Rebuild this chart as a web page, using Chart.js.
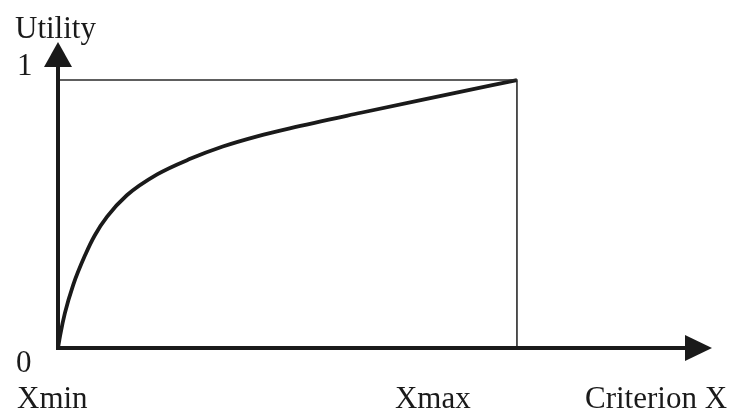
<!DOCTYPE html>
<html>
<head>
<meta charset="utf-8">
<script src="https://cdn.jsdelivr.net/npm/chart.js@4"></script>
<style>
	html, body { margin: 0; padding: 0; background: #fff; }
	#wrap { width: 734px; height: 410px; position: relative; }
</style>
</head>
<body>
<div id="wrap"><canvas id="utilityChart"></canvas></div>
<script>
// utility curve (x: 0 = Xmin, 1 = Xmax)
var curveX = [0, 0.005, 0.015, 0.033, 0.06, 0.08, 0.107, 0.15, 0.216, 0.288, 0.359, 0.434, 0.505, 0.66, 0.832, 1];
var curveY = [0, 0.05, 0.13, 0.235, 0.35, 0.42, 0.49, 0.57, 0.648, 0.706, 0.752, 0.79, 0.82, 0.878, 0.94, 1];

// box lines: utility 1 level and Xmax
var boxX = [0, 1, 1];
var boxY = [1, 1, 0];

var xTicks = [0, 1];
var xTickLabels = ['Xmin', 'Xmax'];
var yTicks = [0, 1];
var yTickLabels = ['0', '1'];
var xTitle = 'Criterion X';
var yTitle = 'Utility';

function toPoints(xs, ys) {
	return xs.map(function (x, i) { return {x: x, y: ys[i]}; });
}

var ink = '#1a1a1a';
var font = '31px "Liberation Serif", "DejaVu Serif", serif';

var axesPlugin = {
	id: 'axesPlugin',
	afterDatasetsDraw: function (chart) {
		var ctx = chart.ctx;
		var xs = chart.scales.x, ys = chart.scales.y;
		var x0 = xs.getPixelForValue(0), y0 = ys.getPixelForValue(0);
		var xEnd = xs.right, yEnd = ys.top;

		ctx.save();
		ctx.strokeStyle = ink;
		ctx.fillStyle = ink;
		ctx.lineWidth = 4;
		ctx.lineCap = 'butt';

		// y axis + arrow
		ctx.beginPath();
		ctx.moveTo(x0, y0 + 2);
		ctx.lineTo(x0, yEnd + 20);
		ctx.stroke();
		ctx.beginPath();
		ctx.moveTo(x0, yEnd);
		ctx.lineTo(x0 - 14, yEnd + 25);
		ctx.lineTo(x0 + 14, yEnd + 25);
		ctx.closePath();
		ctx.fill();

		// x axis + arrow
		ctx.beginPath();
		ctx.moveTo(x0 - 2, y0);
		ctx.lineTo(xEnd - 20, y0);
		ctx.stroke();
		ctx.beginPath();
		ctx.moveTo(xEnd, y0);
		ctx.lineTo(xEnd - 27, y0 - 13);
		ctx.lineTo(xEnd - 27, y0 + 13);
		ctx.closePath();
		ctx.fill();

		// labels
		ctx.font = font;
		ctx.textAlign = 'left';
		ctx.textBaseline = 'alphabetic';
		ctx.fillText(yTitle, 15, yEnd - 4);
		ctx.fillText(yTickLabels[1], 17, ys.getPixelForValue(yTicks[1]) - 5);
		ctx.fillText(yTickLabels[0], 16, ys.getPixelForValue(yTicks[0]) + 24);
		ctx.fillText(xTickLabels[0], 17, 408);
		ctx.fillText(xTickLabels[1], xs.getPixelForValue(xTicks[1]) - 122, 408);
		ctx.fillText(xTitle, 585, 408);
		ctx.restore();
	}
};

var config = {
	type: 'scatter',
	data: {
		datasets: [{
			data: toPoints(boxX, boxY),
			showLine: true,
			borderColor: '#2a2a2a',
			borderWidth: 1.6,
			pointRadius: 0,
			tension: 0
		}, {
			data: toPoints(curveX, curveY),
			showLine: true,
			borderColor: ink,
			borderWidth: 3.8,
			pointRadius: 0,
			cubicInterpolationMode: 'monotone'
		}]
	},
	options: {
		responsive: true,
		maintainAspectRatio: false,
		animation: false,
		layout: {
			padding: {left: 58, right: 22, top: 42, bottom: 62}
		},
		scales: {
			x: {type: 'linear', min: 0, max: 1.425, display: false},
			y: {type: 'linear', min: 0, max: 1.142, display: false}
		},
		plugins: {
			legend: {display: false},
			tooltip: {enabled: false}
		}
	},
	plugins: [axesPlugin]
};

var ctx = document.getElementById('utilityChart').getContext('2d');
var utilityChart = new Chart(ctx, config);
</script>
</body>
</html>
